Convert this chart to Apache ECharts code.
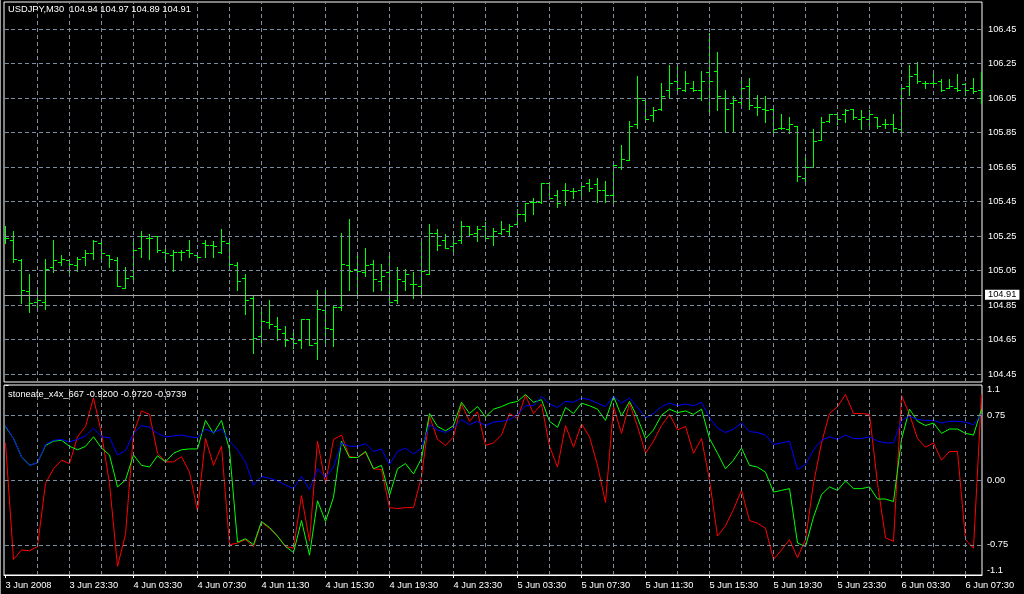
<!DOCTYPE html>
<html><head><meta charset="utf-8">
<script src="https://cdn.jsdelivr.net/npm/echarts@6/dist/echarts.min.js"></script>
<style>html,body{margin:0;padding:0;background:#000;}#c{width:1024px;height:594px;}</style>
</head><body><div id="c"></div>
<script>
// ---- data ----
const timeLabels = ['3 Jun 2008','3 Jun 23:30','4 Jun 03:30','4 Jun 07:30','4 Jun 11:30','4 Jun 15:30','4 Jun 19:30','4 Jun 23:30',
  '5 Jun 03:30','5 Jun 07:30','5 Jun 11:30','5 Jun 15:30','5 Jun 19:30','5 Jun 23:30','6 Jun 03:30','6 Jun 07:30'];
const labelBars = [0,8,16,24,32,40,48,56,64,72,80,88,96,104,112,120];
const gridBars = [4,8,12,16,20,24,28,32,36,40,44,48,52,56,60,64,68,72,76,80,84,88,92,96,100,104,108,112,116,120];

const openP = [
105.24,105.23,105.11,104.93,104.87,104.87,105.07,105.10,105.11,105.08,
105.13,105.15,105.21,105.14,105.11,104.95,105.02,105.18,105.24,105.25,
105.16,105.14,105.16,105.17,105.14,105.21,105.20,105.16,105.21,105.08,
105.01,104.89,104.67,104.75,104.73,104.69,104.66,104.65,104.77,104.63,
104.82,104.71,104.84,105.08,105.06,105.04,105.09,104.99,105.04,104.88,
104.99,104.97,104.96,105.03,105.27,105.23,105.19,105.23,105.31,105.27,
105.31,105.25,105.27,105.28,105.32,105.38,105.45,105.45,105.56,105.49,
105.52,105.51,105.52,105.56,105.55,105.52,105.49,105.65,105.69,105.90,
106.04,105.95,105.99,106.10,106.15,106.10,106.11,106.10,106.20,106.21,
106.05,106.02,106.03,106.12,106.00,105.99,105.99,105.88,105.87,105.89,
105.59,105.65,105.81,105.92,105.96,105.96,105.99,105.93,105.93,105.94,
105.90,105.90,105.87,106.12,106.19,106.14,106.14,106.15,106.11,106.11,
106.13,106.11,106.10];
const highP = [
105.31,105.28,105.12,105.03,104.94,105.12,105.23,105.14,105.12,105.13,
105.17,105.23,105.24,105.14,105.13,105.07,105.22,105.28,105.26,105.25,
105.18,105.17,105.17,105.23,105.15,105.23,105.22,105.29,105.24,105.10,
105.03,104.90,104.84,104.88,104.78,104.73,104.70,104.77,104.77,104.94,
104.93,104.85,105.27,105.35,105.15,105.18,105.11,105.09,105.15,105.07,
105.06,105.04,105.22,105.32,105.29,105.26,105.25,105.34,105.31,105.31,
105.33,105.30,105.34,105.32,105.41,105.44,105.47,105.56,105.56,105.52,
105.56,105.53,105.55,105.58,105.59,105.57,105.68,105.78,105.92,106.18,
106.05,106.00,106.14,106.24,106.23,106.21,106.15,106.21,106.43,106.32,
106.10,106.06,106.17,106.17,106.07,106.06,105.99,105.96,105.94,105.89,
105.71,105.87,105.94,105.96,105.96,105.99,105.99,105.98,105.98,105.94,
105.93,105.96,106.11,106.24,106.26,106.15,106.19,106.16,106.16,106.19,
106.14,106.17,106.20];
const lowP = [
105.21,105.10,104.86,104.81,104.82,104.83,105.04,105.08,105.03,105.05,
105.08,105.12,105.12,105.07,104.96,104.95,104.99,105.13,105.12,105.16,
105.10,105.05,105.11,105.13,105.10,105.13,105.13,105.15,105.06,104.94,
104.80,104.57,104.62,104.72,104.65,104.61,104.60,104.60,104.62,104.54,
104.63,104.61,104.82,104.94,104.89,105.02,104.93,104.94,104.86,104.86,
104.94,104.89,104.92,105.03,105.17,105.18,105.14,105.21,105.25,105.22,
105.24,105.20,105.26,105.25,105.32,105.34,105.38,105.44,105.47,105.42,
105.43,105.47,105.49,105.51,105.45,105.45,105.45,105.64,105.69,105.88,
105.93,105.92,105.98,106.05,106.08,106.09,106.09,106.04,105.97,105.98,
105.86,105.86,106.00,105.99,105.95,105.91,105.83,105.87,105.85,105.57,
105.55,105.65,105.81,105.91,105.90,105.91,105.93,105.87,105.89,105.88,
105.88,105.86,105.83,106.07,106.14,106.11,106.14,106.09,106.11,106.09,
106.07,106.08,106.02];
const closeP = [
105.24,105.12,104.94,104.86,104.88,105.06,105.11,105.12,105.09,105.12,
105.15,105.22,105.15,105.12,104.96,105.01,105.17,105.25,105.24,105.17,
105.15,105.16,105.16,105.15,105.13,105.20,105.19,105.22,105.09,104.99,
104.88,104.66,104.76,104.74,104.71,104.65,104.63,104.77,104.62,104.83,
104.72,104.84,105.09,105.05,105.05,105.08,105.00,105.02,104.87,105.00,
105.03,104.97,105.05,105.27,105.20,105.18,105.21,105.31,105.26,105.29,
105.24,105.28,105.29,105.31,105.38,105.44,105.45,105.56,105.47,105.44,
105.52,105.51,105.54,105.53,105.52,105.49,105.66,105.70,105.89,106.05,
105.93,105.98,106.06,106.14,106.11,106.14,106.10,106.15,106.15,106.06,
105.99,106.04,106.11,106.01,106.00,105.98,105.87,105.88,105.90,105.60,
105.65,105.80,105.91,105.96,105.93,105.98,105.94,105.94,105.96,105.89,
105.90,105.88,106.11,106.18,106.15,106.14,106.14,106.10,106.12,106.10,
106.10,106.09,106.10];

const redLine = [
0.43,-0.92,-0.81,-0.82,-0.77,-0.04,0.13,0.23,0.19,0.50,
0.62,0.95,0.54,-0.04,-1.00,-0.63,0.54,0.80,0.76,0.31,
0.21,0.21,0.27,0.09,-0.36,0.48,0.17,0.39,-0.75,-0.73,
-0.69,-0.77,-0.49,-0.56,-0.65,-0.77,-0.79,-0.18,-0.71,0.45,
-0.04,0.47,0.52,0.27,0.26,0.32,0.13,0.12,-0.32,-0.33,
-0.32,-0.32,0.04,0.74,0.47,0.40,0.50,0.88,0.68,0.79,
0.40,0.43,0.52,0.77,0.71,0.98,0.77,0.88,0.39,0.15,
0.63,0.38,0.65,0.50,0.17,-0.26,0.85,0.54,0.89,0.62,
0.31,0.45,0.63,0.76,0.58,0.62,0.31,0.48,0.00,-0.65,
-0.53,-0.34,-0.12,-0.47,-0.50,-0.56,-0.92,-0.81,-0.69,-0.90,
-0.69,-0.04,0.43,0.77,0.85,0.99,0.77,0.77,0.76,-0.04,
-0.67,-0.71,0.98,0.76,0.48,0.38,0.43,0.23,0.33,0.33,
-0.69,-0.79,0.99];
const greenLine = [
0.62,0.48,0.27,0.17,0.20,0.40,0.45,0.46,0.39,0.35,
0.39,0.50,0.37,0.29,-0.08,0.00,0.29,0.17,0.15,0.28,
0.21,0.31,0.35,0.36,0.36,0.69,0.54,0.69,0.35,-0.72,
-0.68,-0.75,-0.48,-0.55,-0.65,-0.77,-0.84,-0.47,-0.87,-0.24,
-0.48,-0.20,0.45,0.26,0.26,0.33,0.13,0.17,-0.18,0.13,
0.19,0.07,0.25,0.77,0.62,0.57,0.63,0.90,0.77,0.85,
0.73,0.82,0.85,0.89,0.91,0.99,0.90,0.93,0.68,0.61,
0.84,0.77,0.89,0.86,0.82,0.69,0.97,0.74,0.91,0.72,
0.48,0.58,0.75,0.82,0.78,0.80,0.76,0.82,0.48,0.31,
0.13,0.23,0.37,0.17,0.15,0.09,-0.14,-0.12,-0.10,-0.73,
-0.77,-0.43,-0.17,-0.08,-0.12,-0.01,-0.10,-0.10,-0.08,-0.22,
-0.22,-0.25,0.47,0.82,0.68,0.63,0.66,0.54,0.59,0.59,
0.54,0.52,0.82];
const blueLine = [
0.63,0.48,0.27,0.17,0.20,0.41,0.46,0.47,0.44,0.47,
0.51,0.60,0.50,0.49,0.29,0.34,0.54,0.63,0.61,0.54,
0.50,0.51,0.52,0.50,0.49,0.59,0.55,0.59,0.45,0.35,
0.21,-0.06,0.04,0.02,-0.01,-0.06,-0.10,0.04,-0.11,0.13,
0.03,0.15,0.43,0.39,0.39,0.42,0.33,0.36,0.18,0.33,
0.37,0.30,0.37,0.64,0.58,0.55,0.60,0.70,0.64,0.68,
0.63,0.67,0.68,0.70,0.76,0.86,0.86,0.97,0.88,0.84,
0.91,0.90,0.95,0.93,0.89,0.85,0.97,0.89,0.95,0.84,
0.72,0.77,0.85,0.89,0.86,0.88,0.86,0.90,0.72,0.60,
0.55,0.59,0.66,0.56,0.55,0.52,0.41,0.43,0.45,0.12,
0.18,0.35,0.46,0.50,0.47,0.52,0.48,0.48,0.50,0.45,
0.43,0.43,0.69,0.74,0.70,0.69,0.69,0.66,0.68,0.68,
0.67,0.64,0.76];

const priceTicks = [104.45,104.65,104.85,105.05,105.25,105.45,105.65,105.85,106.05,106.25,106.45];
const oscTicks = [-1.1,-0.75,0,0.75,1.1];
const oscTickLabels = ['-1.1','-0.75','0.00','0.75','1.1'];
const bidPrice = 104.91;
const headerText = 'USDJPY,M30  104.94 104.97 104.89 104.91';
const oscText = 'stoneate_x4x_667 -0.9200 -0.9720 -0.9739';

// ---- build ----
const FONT = 'Liberation Sans, Arial, sans-serif';
const ohlc = openP.map((o, i) => [i, o, closeP[i], lowP[i], highP[i]]);
const idx = (arr) => arr.map((v, i) => [i, v]);
const XMIN = -0.1875, XMAX = 122.0625;
const dash = {type: [4, 3], color: '#7d8da0', width: 1};

const chart = echarts.init(document.getElementById('c'), null, {renderer: 'canvas'});
const crisp = (y) => Math.round(y) + 0.5;
const barColor = '#00ff00';

chart.setOption({
  animation: false,
  backgroundColor: '#000',
  textStyle: {fontFamily: FONT},
  title: [
    {text: headerText, left: 8, top: 5, padding: 0, textStyle: {color: '#fff', fontSize: 9.3, fontWeight: 'normal', fontFamily: FONT}},
    {text: oscText, left: 8, top: 390, padding: 0, textStyle: {color: '#fff', fontSize: 9.3, fontWeight: 'normal', fontFamily: FONT}}
  ],
  grid: [
    {left: 4, top: 2, width: 978, height: 380, show: true, borderColor: '#fff', borderWidth: 1, backgroundColor: '#000'},
    {left: 4, top: 385, width: 978, height: 190, show: true, borderColor: '#fff', borderWidth: 1, backgroundColor: '#000'}
  ],
  xAxis: [
    {type: 'value', gridIndex: 0, min: XMIN, max: XMAX, axisLine: {show: false}, axisTick: {show: false}, axisLabel: {show: false}, splitLine: {show: false}},
    {type: 'value', gridIndex: 1, min: XMIN, max: XMAX,
      axisLine: {show: true, onZero: false, lineStyle: {color: '#fff'}},
      axisTick: {show: true, length: 3, customValues: labelBars, lineStyle: {color: '#fff'}},
      axisLabel: {show: true, customValues: labelBars, color: '#fff', fontSize: 9.3, margin: 6, align: 'left',
        formatter: (v) => { const k = labelBars.indexOf(Math.round(v)); return k >= 0 ? timeLabels[k] : ''; }},
      splitLine: {show: false}}
  ],
  yAxis: [
    {type: 'value', gridIndex: 0, position: 'right', min: 104.404, max: 106.608,
      axisLine: {show: false},
      axisTick: {show: true, length: 3, customValues: priceTicks, lineStyle: {color: '#fff'}},
      axisLabel: {customValues: priceTicks, color: '#fff', fontSize: 9.3, margin: 6, align: 'left', formatter: (v) => v.toFixed(2)},
      splitLine: {show: false}},
    {type: 'value', gridIndex: 1, position: 'right', min: -1.1, max: 1.1,
      axisLine: {show: false},
      axisTick: {show: true, length: 3, customValues: oscTicks, lineStyle: {color: '#fff'}},
      axisLabel: {customValues: oscTicks, color: '#fff', fontSize: 9.3, margin: 5, align: 'left',
        verticalAlignMinLabel: 'bottom', verticalAlignMaxLabel: 'top',
        formatter: (v) => { let k = oscTicks.findIndex(t => Math.abs(t - v) < 1e-6); return k >= 0 ? oscTickLabels[k] : ''; }},
      splitLine: {show: false}}
  ],
  series: [
    // grid carrier (top pane)
    {type: 'line', xAxisIndex: 0, yAxisIndex: 0, data: idx(closeP), showSymbol: false, silent: true, z: 1,
      lineStyle: {opacity: 0}, tooltip: {show: false},
      markLine: {silent: true, symbol: ['none', 'none'], label: {show: false}, lineStyle: dash, animation: false,
        data: gridBars.map(b => ({xAxis: b})).concat(priceTicks.map(p => ({yAxis: p})))}},
    // bid line
    {type: 'line', xAxisIndex: 0, yAxisIndex: 0, data: idx(closeP), showSymbol: false, silent: true, z: 2,
      lineStyle: {opacity: 0},
      markLine: {silent: true, symbol: ['none', 'none'], animation: false,
        lineStyle: {type: 'solid', color: '#a8a8a8', width: 1},
        label: {show: true, position: 'end', distance: 3, formatter: bidPrice.toFixed(2), color: '#000', backgroundColor: '#fff',
          fontSize: 9.3, padding: [1, 3, 0, 3], fontFamily: FONT},
        data: [{yAxis: bidPrice}]}},
    // OHLC bars
    {type: 'custom', xAxisIndex: 0, yAxisIndex: 0, z: 3, data: ohlc, clip: true,
      encode: {x: 0, y: [1, 2, 3, 4]},
      renderItem: function (params, api) {
        const i = api.value(0);
        const o = api.coord([i, api.value(1)]);
        const c = api.coord([i, api.value(2)]);
        const l = api.coord([i, api.value(3)]);
        const h = api.coord([i, api.value(4)]);
        const x = o[0];
        const st = {stroke: barColor, lineWidth: 1};
        return {type: 'group', children: [
          {type: 'line', shape: {x1: x, y1: Math.round(h[1]), x2: x, y2: Math.round(l[1]) + 1}, style: st},
          {type: 'line', shape: {x1: x - 3.5, y1: crisp(o[1]), x2: x, y2: crisp(o[1])}, style: st},
          {type: 'line', shape: {x1: x, y1: crisp(c[1]), x2: x + 3.5, y2: crisp(c[1])}, style: st}
        ]};
      }},
    // grid carrier (bottom pane)
    {type: 'line', xAxisIndex: 1, yAxisIndex: 1, data: idx(blueLine), showSymbol: false, silent: true, z: 1,
      lineStyle: {opacity: 0},
      markLine: {silent: true, symbol: ['none', 'none'], label: {show: false}, lineStyle: dash, animation: false,
        data: gridBars.map(b => ({xAxis: b})).concat([-0.75, 0, 0.75].map(v => ({yAxis: v})))}},
    {type: 'line', name: 'red', xAxisIndex: 1, yAxisIndex: 1, data: idx(redLine), showSymbol: false, z: 3,
      lineStyle: {color: '#ff0000', width: 1}},
    {type: 'line', name: 'green', xAxisIndex: 1, yAxisIndex: 1, data: idx(greenLine), showSymbol: false, z: 3,
      lineStyle: {color: '#00ff00', width: 1}},
    {type: 'line', name: 'blue', xAxisIndex: 1, yAxisIndex: 1, data: idx(blueLine), showSymbol: false, z: 3,
      lineStyle: {color: '#0000ff', width: 1}}
  ],
  graphic: [
    {type: 'rect', left: 0, top: 0, shape: {width: 1, height: 594}, style: {fill: '#9a9a9a'}, silent: true}
  ]
});
</script>
</body></html>
